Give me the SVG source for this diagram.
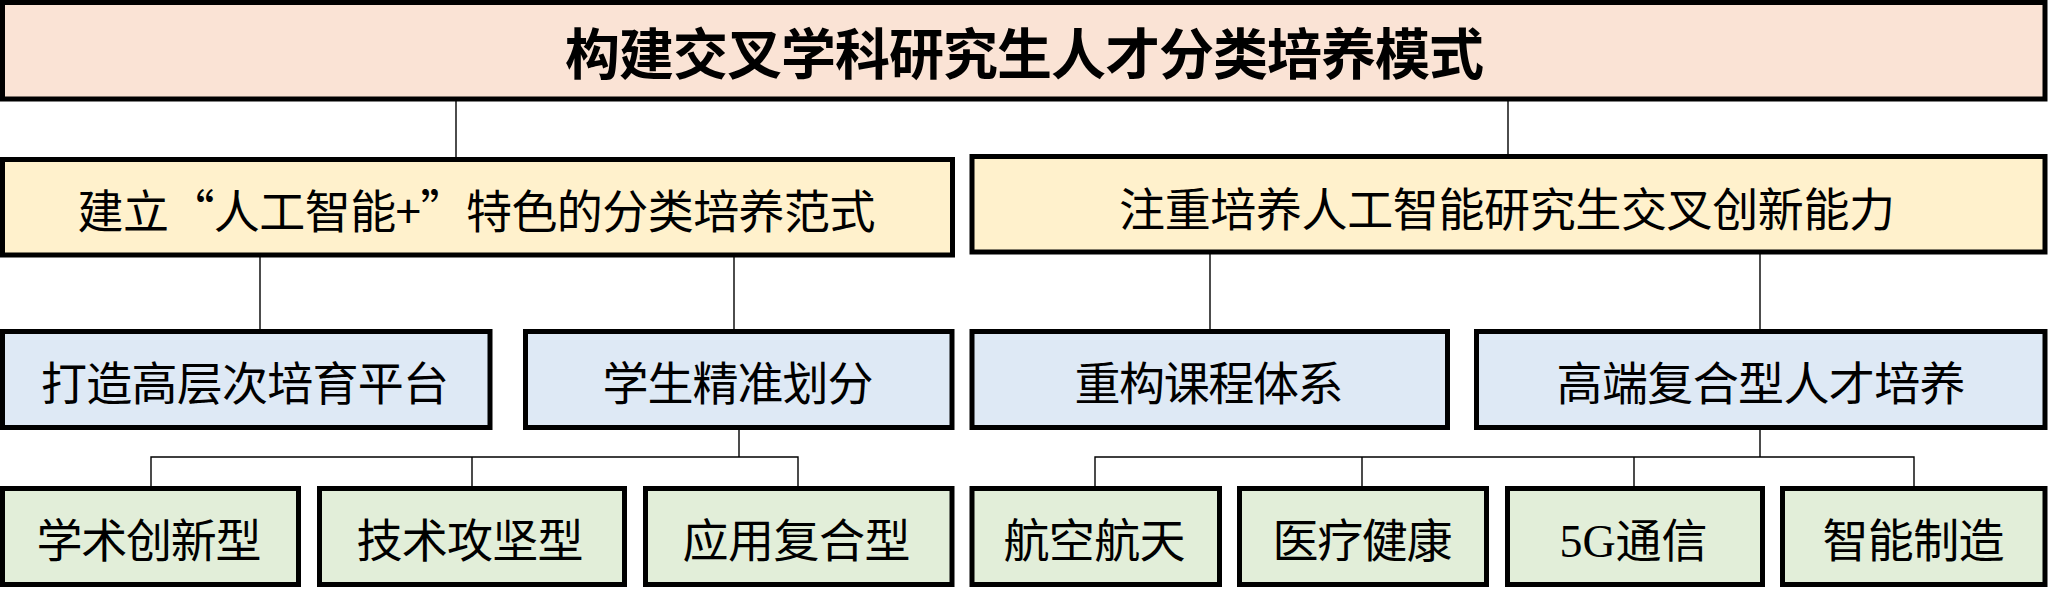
<svg xmlns="http://www.w3.org/2000/svg" width="2048" height="592" viewBox="0 0 2048 592">
<style>
  .box { stroke: #000; stroke-width: 5; }
  .top { fill: #FAE3D5; }
  .l2 { fill: #FFF1CC; }
  .l3 { fill: #DEE9F5; }
  .l4 { fill: #E2EED9; }
  text { font-family: "Noto Sans CJK SC", sans-serif; fill: #000; text-anchor: middle; }
  .t1 { font-size: 55px; font-weight: bold; }
  .t2 { font-size: 46px; }
  .ser { font-family: "Liberation Serif", "Noto Sans CJK SC", serif; }
  #connectors path { fill: none; stroke: #000; stroke-width: 1.4; }
</style>
<rect width="2048" height="592" fill="#FFFFFF"/>
<g id="connectors">
  <path d="M456 101V157"/>
  <path d="M1508 101V154"/>
  <path d="M260 257V329"/>
  <path d="M734 257V329"/>
  <path d="M1210 254V329"/>
  <path d="M1760 254V329"/>
  <path d="M739 430V457M151 486V457H798V486M472 457V486"/>
  <path d="M1760 430V457M1095 486V457H1914V486M1362 457V486M1634 457V486"/>
</g>
<g id="root">
  <rect class="box top" x="2.5" y="2.5" width="2042.5" height="96.5"/>
  <text class="t1" x="1024.5" y="74" textLength="919" lengthAdjust="spacing">构建交叉学科研究生人才分类培养模式</text>
</g>
<g id="paradigm">
  <rect class="box l2" x="2.5" y="159.5" width="950" height="95.5"/>
  <text class="t2" x="476.5" y="227.5" textLength="798" lengthAdjust="spacing">建立“人工智能+”特色的分类培养范式</text>
</g>
<g id="ability">
  <rect class="box l2" x="972" y="156.5" width="1073" height="95.5"/>
  <text class="t2" x="1507" y="225.5" textLength="776" lengthAdjust="spacing">注重培养人工智能研究生交叉创新能力</text>
</g>
<g id="platform">
  <rect class="box l3" x="2.5" y="331.5" width="487.5" height="96"/>
  <text class="t2" x="245" y="400" textLength="408" lengthAdjust="spacing">打造高层次培育平台</text>
</g>
<g id="division">
  <rect class="box l3" x="525.5" y="331.5" width="426.5" height="96"/>
  <text class="t2" x="738" y="400" textLength="271" lengthAdjust="spacing">学生精准划分</text>
</g>
<g id="curriculum">
  <rect class="box l3" x="972" y="331.5" width="475.5" height="96"/>
  <text class="t2" x="1209" y="400" textLength="269" lengthAdjust="spacing">重构课程体系</text>
</g>
<g id="highend">
  <rect class="box l3" x="1476.5" y="331.5" width="568.5" height="96"/>
  <text class="t2" x="1761" y="400" textLength="409" lengthAdjust="spacing">高端复合型人才培养</text>
</g>
<g id="academic">
  <rect class="box l4" x="2.5" y="488.5" width="296" height="96"/>
  <text class="t2" x="149" y="556.5" textLength="225" lengthAdjust="spacing">学术创新型</text>
</g>
<g id="technical">
  <rect class="box l4" x="319.5" y="488.5" width="305" height="96"/>
  <text class="t2" x="470" y="556.5" textLength="227" lengthAdjust="spacing">技术攻坚型</text>
</g>
<g id="applied">
  <rect class="box l4" x="645.5" y="488.5" width="306.5" height="96"/>
  <text class="t2" x="796.5" y="556.5" textLength="228" lengthAdjust="spacing">应用复合型</text>
</g>
<g id="aerospace">
  <rect class="box l4" x="972" y="488.5" width="247.5" height="96"/>
  <text class="t2" x="1094.5" y="556.5" textLength="182" lengthAdjust="spacing">航空航天</text>
</g>
<g id="medical">
  <rect class="box l4" x="1239.5" y="488.5" width="247" height="96"/>
  <text class="t2" x="1362.5" y="556.5" textLength="180" lengthAdjust="spacing">医疗健康</text>
</g>
<g id="telecom">
  <rect class="box l4" x="1507.5" y="488.5" width="255" height="96"/>
  <text class="t2" x="1633.5" y="556.5"><tspan class="ser">5G</tspan>通信</text>
</g>
<g id="manufacturing">
  <rect class="box l4" x="1782.5" y="488.5" width="262.5" height="96"/>
  <text class="t2" x="1913.5" y="556.5" textLength="182" lengthAdjust="spacing">智能制造</text>
</g>
</svg>
